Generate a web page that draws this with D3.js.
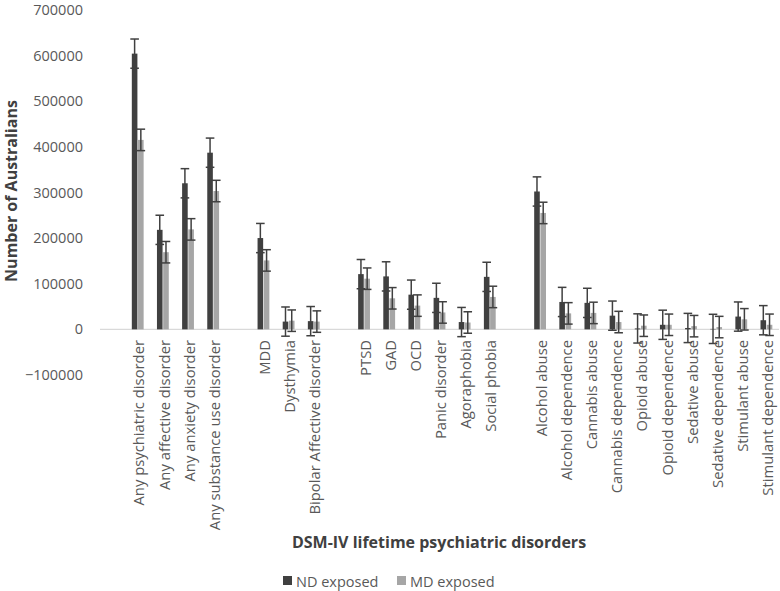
<!DOCTYPE html>
<html lang="en">
<head>
<meta charset="utf-8"/>
<title>DSM-IV lifetime psychiatric disorders</title>
<script src="https://cdn.jsdelivr.net/npm/d3@7"></script>
<style>
  body { margin: 0; background: #fff; }
  text { font-family: "Open Sans", "Liberation Sans", sans-serif; }
</style>
</head>
<body>
<svg id="chart" width="780" height="591"></svg>
<script>
// blank strings are the empty spacer slots between groups
const categories = ["", "Any psychiatric disorder", "Any affective disorder", "Any anxiety disorder",
  "Any substance use disorder", "", "MDD", "Dysthymia", "Bipolar Affective disorder", "",
  "PTSD", "GAD", "OCD", "Panic disorder", "Agoraphobia", "Social phobia", "",
  "Alcohol abuse", "Alcohol dependence", "Cannabis abuse", "Cannabis dependence",
  "Opioid abuse", "Opioid dependence", "Sedative abuse", "Sedative dependence",
  "Stimulant abuse", "Stimulant dependence"];

const ndValues = [null, 604000, 218000, 320000, 387000, null, 200000, 17000, 18000, null,
  121000, 116000, 76000, 69000, 16000, 115000, null,
  302000, 60000, 58000, 30000, 2000, 10000, 3000, 1000, 28000, 20000];
const ndErrors = [null, 32000, 32000, 32000, 32000, null, 32000, 32000, 32000, null,
  32000, 32000, 32000, 32000, 32000, 32000, null,
  32000, 32000, 32000, 32000, 32000, 32000, 32000, 32000, 32000, 32000];

const mdValues = [null, 415000, 169000, 219000, 303000, null, 151000, 19000, 17000, null,
  111000, 68000, 52000, 37000, 15000, 71000, null,
  255000, 35000, 36000, 16000, 8000, 10000, 7000, 5000, 22000, 10000];
const mdErrors = [null, 23500, 23500, 23500, 23500, null, 23500, 23500, 23500, null,
  23500, 23500, 23500, 23500, 23500, 23500, null,
  23500, 23500, 23500, 23500, 23500, 23500, 23500, 23500, 23500, 23500];

const seriesNames = ["ND exposed", "MD exposed"];
const seriesColors = ["#404040", "#a6a6a6"];
const yTicks = [-100000, 0, 100000, 200000, 300000, 400000, 500000, 600000, 700000];

const svg = d3.select('#chart');

const x0 = d3.scaleBand()
  .domain(d3.range(categories.length))
  .range([100, 779])
  .paddingInner(0.53)
  .paddingOuter(0.265);

const x1 = d3.scaleBand()
  .domain(seriesNames)
  .range([0, x0.bandwidth()])
  .paddingInner(0.1);

const y = d3.scaleLinear()
  .domain([-100000, 700000])
  .range([375, 9.8]);

const color = d3.scaleOrdinal().domain(seriesNames).range(seriesColors);

// y axis labels
const yAxis = svg.append('g')
  .attr('transform', 'translate(83,0)')
  .call(d3.axisLeft(y).tickValues(yTicks).tickSize(0).tickPadding(0).tickFormat(d3.format('d')));
yAxis.select('.domain').remove();
yAxis.selectAll('text')
  .attr('fill', '#595959')
  .style('font-size', '14.5px')
  .style('font-family', '"Open Sans", sans-serif');

// zero line
svg.append('line')
  .attr('x1', 100).attr('x2', 779)
  .attr('y1', y(0)).attr('y2', y(0))
  .attr('stroke', '#d9d9d9')
  .attr('stroke-width', 1.3);

const rows = categories.map((c, i) => ({
  i: i,
  name: c,
  vals: [
    { s: seriesNames[0], v: ndValues[i], e: ndErrors[i] },
    { s: seriesNames[1], v: mdValues[i], e: mdErrors[i] }
  ]
})).filter(d => d.name !== '');

const groups = svg.append('g')
  .selectAll('g')
  .data(rows)
  .enter()
  .append('g')
  .attr('transform', d => 'translate(' + x0(d.i) + ',0)');

groups.selectAll('rect')
  .data(d => d.vals)
  .enter()
  .append('rect')
  .attr('x', d => x1(d.s))
  .attr('width', x1.bandwidth())
  .attr('y', d => y(Math.max(0, d.v)))
  .attr('height', d => Math.abs(y(d.v) - y(0)))
  .attr('fill', d => color(d.s));

// error bars
const err = groups.selectAll('g.err')
  .data(d => d.vals)
  .enter()
  .append('g')
  .attr('class', 'err')
  .attr('stroke', '#404040')
  .attr('stroke-width', 1.5);

err.append('line')
  .attr('x1', d => x1(d.s) + x1.bandwidth() / 2)
  .attr('x2', d => x1(d.s) + x1.bandwidth() / 2)
  .attr('y1', d => y(d.v + d.e))
  .attr('y2', d => y(d.v - d.e));
err.append('line')
  .attr('x1', d => x1(d.s) + x1.bandwidth() / 2 - 4.3)
  .attr('x2', d => x1(d.s) + x1.bandwidth() / 2 + 4.3)
  .attr('y1', d => y(d.v + d.e))
  .attr('y2', d => y(d.v + d.e));
err.append('line')
  .attr('x1', d => x1(d.s) + x1.bandwidth() / 2 - 4.3)
  .attr('x2', d => x1(d.s) + x1.bandwidth() / 2 + 4.3)
  .attr('y1', d => y(d.v - d.e))
  .attr('y2', d => y(d.v - d.e));

// category labels
svg.append('g')
  .selectAll('text')
  .data(rows)
  .enter()
  .append('text')
  .attr('transform', d => 'translate(' + (x0(d.i) + x0.bandwidth() / 2 + 1.5) + ',340) rotate(-90)')
  .attr('text-anchor', 'end')
  .attr('dy', '0.35em')
  .attr('fill', '#595959')
  .style('font-size', '14.8px')
  .text(d => d.name);

// axis titles
svg.append('text')
  .attr('transform', 'translate(17,191) rotate(-90)')
  .attr('text-anchor', 'middle')
  .attr('fill', '#404040')
  .style('font-size', '16px')
  .style('font-weight', 'bold')
  .text('Number of Australians');

svg.append('text')
  .attr('x', 439)
  .attr('y', 548)
  .attr('text-anchor', 'middle')
  .attr('fill', '#404040')
  .style('font-size', '16px')
  .style('font-weight', 'bold')
  .text('DSM-IV lifetime psychiatric disorders');

// legend
const legendX = [283, 397];
const legend = svg.append('g')
  .selectAll('g')
  .data(seriesNames)
  .enter()
  .append('g')
  .attr('transform', (d, i) => 'translate(' + legendX[i] + ',576)');
legend.append('rect')
  .attr('width', 9).attr('height', 9)
  .attr('fill', d => color(d));
legend.append('text')
  .attr('x', 13)
  .attr('y', 10.5)
  .attr('fill', '#595959')
  .style('font-size', '14.5px')
  .text(d => d);
</script>
</body>
</html>
